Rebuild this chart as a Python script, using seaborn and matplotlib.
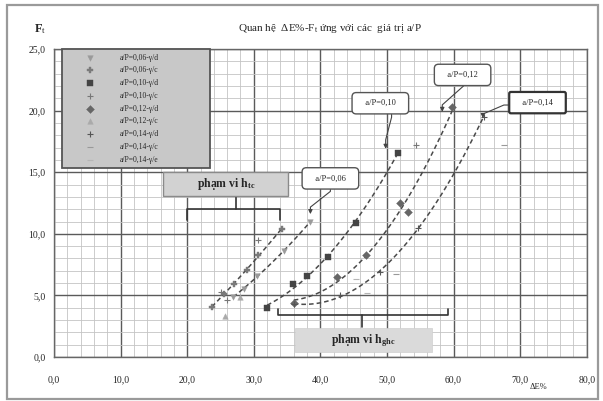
import numpy as np
import pandas as pd
import seaborn as sns
from matplotlib import pyplot as plt
from matplotlib.patches import Rectangle
from matplotlib.ticker import MultipleLocator, FuncFormatter

# Values: dE % (x) and Ft (y)
labels = ["a/P=0,06-γ/d", "a/P=0,06-γ/c", "a/P=0,10-γ/d", "a/P=0,10-γ/c", "a/P=0,12-γ/d",
          "a/P=0,12-γ/c", "a/P=0,14-γ/d", "a/P=0,14-γ/c", "a/P=0,14-γ/e"]

s1_x = [26.9, 28.5, 30.5, 34.5, 38.5]
s1_y = [4.9, 5.5, 6.6, 8.6, 11.0]
s2_x = [23.7, 25.5, 27.0, 29.0, 30.7, 34.2]
s2_y = [4.1, 5.1, 5.9, 7.1, 8.3, 10.4]
s3_x = [32.0, 35.9, 38.0, 41.2, 45.3, 51.6]
s3_y = [4.0, 5.9, 6.6, 8.1, 10.9, 16.6]
s4_x = [25.0, 26.0, 30.7, 54.3]
s4_y = [5.3, 4.6, 9.5, 17.2]
s5_x = [36.0, 42.5, 46.8, 52.0, 53.2, 59.8]
s5_y = [4.4, 6.5, 8.3, 12.5, 11.8, 20.3]
s6_x = [25.7, 28.0]
s6_y = [3.3, 4.9]
s7_x = [36.0, 43.0, 49.0, 54.7, 64.5]
s7_y = [4.3, 5.0, 6.9, 10.5, 19.5]
s8_x = [51.3, 67.5]
s8_y = [6.7, 17.2]
s9_x = [45.3, 47.0]
s9_y = [6.3, 5.2]

series_x = [s1_x, s2_x, s3_x, s4_x, s5_x, s6_x, s7_x, s8_x, s9_x]
series_y = [s1_y, s2_y, s3_y, s4_y, s5_y, s6_y, s7_y, s8_y, s9_y]
markers = ["v", "P", "s", "+", "D", "^", "+", "_", "_"]
colors = ["#9a9a9a", "#7a7a7a", "#444444", "#777777", "#666666",
          "#aaaaaa", "#555555", "#999999", "#b5b5b5"]
fitted = [0, 1, 2, 4, 6]  # series that carry a trend curve

sns.set_style("white")
plt.rcParams["font.family"] = ["Liberation Serif", "DejaVu Serif"]
plt.rcParams["mathtext.fontset"] = "custom"
plt.rcParams["mathtext.rm"] = "Liberation Serif"
plt.rcParams["mathtext.it"] = "Liberation Serif"
plt.rcParams["mathtext.bf"] = "Liberation Serif:bold"

fig = plt.figure(figsize=(6.03, 4.01), dpi=100)
ax = fig.add_axes([0.0896, 0.1097, 0.8835, 0.768])

# outer frame of the picture
fig.patches.append(Rectangle((0.012, 0.005), 0.98, 0.982, transform=fig.transFigure,
                             fill=False, edgecolor="#9a9a9a", lw=1.6))

for i in range(len(labels)):
    df = pd.DataFrame({"x": series_x[i], "y": series_y[i]})
    sns.scatterplot(data=df, x="x", y="y", ax=ax, marker=markers[i], color=colors[i],
                    s=16, linewidth=0.8 if markers[i] in "+_" else 0.3,
                    edgecolor=colors[i], label=labels[i], zorder=4)
    if i in fitted:
        sns.regplot(data=df, x="x", y="y", ax=ax, order=2, ci=None, scatter=False,
                    truncate=True, line_kws=dict(color="#4a4a4a", lw=1.1, ls=(0, (3, 2))))

ax.set_xlim(0, 80)
ax.set_ylim(0, 25)
ax.xaxis.set_major_locator(MultipleLocator(10))
ax.xaxis.set_minor_locator(MultipleLocator(2))
ax.yaxis.set_major_locator(MultipleLocator(5))
ax.yaxis.set_minor_locator(MultipleLocator(1))
fmt = FuncFormatter(lambda v, p: f"{v:.1f}".replace(".", ","))
ax.xaxis.set_major_formatter(fmt)
ax.yaxis.set_major_formatter(fmt)
ax.grid(which="minor", color="#c4c4c4", lw=0.6)
ax.grid(which="major", color="#5a5a5a", lw=1.0)
ax.set_axisbelow(True)
ax.tick_params(which="both", length=0)
ax.tick_params(axis="x", pad=13, labelsize=7)
ax.tick_params(axis="y", pad=6, labelsize=7)
ax.set_xlabel("")
ax.set_ylabel("")
for sp in ax.spines.values():
    sp.set_color("#666666")
    sp.set_linewidth(1.0)

leg = ax.legend(loc="upper left", bbox_to_anchor=(0.015, 0.644, 0.278, 0.356), mode="expand",
                borderaxespad=0, fontsize=5.5, scatterpoints=1, handlelength=6,
                handletextpad=1.0, borderpad=0.6, labelspacing=0.62,
                fancybox=False, framealpha=1, facecolor="#c8c8c8", edgecolor="#555555")
leg.get_frame().set_linewidth(1.3)
leg.set_zorder(6)

fig.text(0.547, 0.928, "Quan hệ  ΔE%-F$_t$ ứng với các  giá trị a/P", ha="center",
         va="center", fontsize=8)
fig.text(0.066, 0.928, r"$\mathbf{F}_t$", ha="center", va="center", fontsize=9)
fig.text(0.893, 0.035, "ΔE%", ha="center", va="center", fontsize=6)

# a/P callouts
box = dict(boxstyle="round,pad=0.8,rounding_size=0.5", fc="white", ec="#555555", lw=1.0)
arrow = dict(arrowstyle="-|>", color="#444444", lw=0.8, mutation_scale=6, shrinkA=0, shrinkB=0)
ax.annotate("   a/P=0,06   ", xy=(38.5, 11.6), xytext=(41.5, 14.5), fontsize=6, ha="center",
            va="center", bbox=box, zorder=7,
            arrowprops=dict(arrow, relpos=(0.5, 0),
                            connectionstyle="arc,angleA=-90,angleB=90,armA=9,armB=7,rad=0"))
ax.annotate("   a/P=0,10   ", xy=(49.8, 16.9), xytext=(49.0, 20.6), fontsize=6, ha="center",
            va="center", bbox=box, zorder=7,
            arrowprops=dict(arrow, relpos=(0.76, 0),
                            connectionstyle="arc,angleA=-90,angleB=90,armA=10,armB=9,rad=0"))
ax.annotate("   a/P=0,12   ", xy=(58.3, 19.9), xytext=(61.35, 22.9), fontsize=6, ha="center",
            va="center", bbox=box, zorder=7,
            arrowprops=dict(arrow, relpos=(0.55, 0),
                            connectionstyle="arc,angleA=-90,angleB=90,armA=6,armB=7,rad=0"))
ax.annotate("   a/P=0,14   ", xy=(64.4, 19.4), xytext=(72.6, 20.65), fontsize=6, ha="center",
            va="center", zorder=7,
            bbox=dict(boxstyle="round,pad=0.8,rounding_size=0.2", fc="white", ec="#333333", lw=1.6),
            arrowprops=dict(arrow, relpos=(0, 0.2),
                            connectionstyle="arc,angleA=180,angleB=90,armA=12,armB=4,rad=0"))

# range brackets with their labels
bk = dict(color="#333333", lw=1.2, zorder=5)
ax.plot([20.0, 20.0, 34.0, 34.0], [11.1, 12.0, 12.0, 11.1], **bk)
ax.plot([27.4, 27.4], [12.0, 13.1], **bk)
ax.add_patch(Rectangle((16.4, 13.1), 18.8, 1.9, fc="#d2d2d2", ec="#8a8a8a", lw=1.0, zorder=6))
ax.text(25.8, 14.05, r"phạm vi h$_{\mathbf{tc}}$", fontsize=8.5, fontweight="bold",
        ha="center", va="center", zorder=7)
ax.plot([33.7, 33.7, 59.2, 59.2], [3.9, 3.4, 3.4, 3.9], **bk)
ax.plot([46.3, 46.3], [3.4, 2.4], **bk)
ax.add_patch(Rectangle((36.2, 0.4), 20.6, 1.95, fc="#dadada", ec="#d0d0d0", lw=0.5, zorder=6))
ax.text(46.5, 1.35, r"phạm vi h$_{\mathbf{ghc}}$", fontsize=8.5, fontweight="bold",
        ha="center", va="center", zorder=7)

fig.savefig("out.png", dpi=100)
